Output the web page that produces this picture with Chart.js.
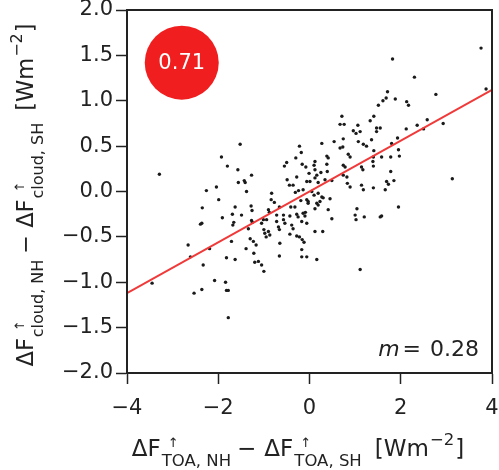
<!DOCTYPE html>
<html>
<head>
<meta charset="utf-8">
<script src="https://cdn.jsdelivr.net/npm/chart.js@4.4.1/dist/chart.umd.min.js"></script>
<style>
  html, body { margin: 0; padding: 0; background: #fff; }
</style>
</head>
<body>
<canvas id="grafico" width="499" height="470"></canvas>
<script>
// Diferenca NH - SH do fluxo no topo da atmosfera (eixo x) e da nuvem (eixo y)
const toaDiff = [
  -1.93, -1.80, -1.57, -3.29, -2.04, -2.26, -1.56, -1.99, -2.35, -1.63,
  -1.69, -1.91, -1.66, -2.39, -2.36, -1.71, -2.66, -2.19, -2.61, -1.82,
  -1.63, -2.33, -3.45, -2.08, -1.84, -2.36, -2.53, -1.82, -1.78, -1.78,
  -1.52, -0.22, -0.18, -0.50, -0.55, -0.30, -0.16, -1.27, -1.43, -1.41,
  -0.49, -0.28, -0.01, -0.06, -1.38, -0.44, -0.36, -0.24, -0.31, -0.83,
  -1.28, -1.26, -0.84, -0.77, -0.66, -0.41, -0.32, -0.19, -0.03, -0.90,
  -0.88, -1.49, -0.72, -0.57, -0.43, -0.28, -0.25, -0.09, -1.01, -1.05,
  -0.94, -1.27, -1.25, -0.72, -0.68, -0.66, -0.57, -0.54, -0.39, -0.36,
  -0.17, -0.06, -1.68, -1.34, -1.00, -0.98, -0.95, -0.90, -0.87, -1.30,
  -1.23, -0.43, -0.28, -0.22, -0.16, -0.65, -1.39, -1.22, -0.17, -0.66,
  -0.17, -0.06, -1.20, -1.12, -1.05, -1.00, -1.17, 0.16, 0.71, 1.41,
  0.67, 0.76, 1.06, 1.33, 1.51, 1.47, 0.96, 1.02, 1.11, 0.27,
  0.54, 0.74, 1.07, 1.18, 1.25, 0.67, 0.73, 1.36, 0.38, 0.41,
  0.12, 0.10, 0.85, 0.89, 1.40, -0.08, 0.38, 0.74, 0.78, 1.14,
  1.17, 1.40, 0.12, 0.16, 0.25, 0.39, 0.01, 0.12, 0.19, 0.34,
  0.49, 0.74, 0.82, 0.83, 0.89, 1.14, 1.18, 1.40, -0.14, 0.05,
  0.10, 0.19, 0.27, 0.30, 0.45, -0.06, -0.03, 0.16, 0.19, 0.23,
  0.41, 0.12, -0.14, -0.10, 1.04, 1.00, 1.02, 1.20, 1.55, 0.49,
  0.12, 0.29, -0.12, 1.11, 3.76, 1.82, 2.30, 3.87, 2.77, 1.71,
  1.61, 1.68, 1.88, 2.13, 2.17, 1.47, 1.55, 2.12, 2.36, 2.50,
  2.58, 2.93, 1.93, 1.80, 1.41, 1.95, 1.58, 1.78, 1.97, 1.39,
  1.78, 1.69, 1.73, 1.85, 1.66, 3.13, 1.95, 1.58
];
const cloudDiff = [
  0.38, 0.28, 0.24, 0.19, 0.05, 0.01, 0.10, -0.09, -0.18, -0.17,
  -0.25, -0.29, -0.34, -0.36, -0.35, -0.55, -0.59, -0.63, -0.72, -0.73,
  -0.75, -0.81, -1.01, -0.98, -1.00, -1.08, -1.12, -1.09, -1.09, -1.39,
  0.52, 0.50, 0.43, 0.32, 0.28, 0.37, 0.30, 0.18, 0.12, 0.10,
  0.13, 0.16, 0.20, 0.11, 0.00, 0.07, 0.07, 0.01, -0.01, -0.02,
  -0.16, -0.21, -0.09, -0.12, -0.17, -0.17, -0.17, -0.10, -0.11, -0.20,
  -0.23, -0.26, -0.26, -0.26, -0.27, -0.25, -0.28, -0.23, -0.31, -0.35,
  -0.31, -0.32, -0.34, -0.33, -0.39, -0.42, -0.31, -0.35, -0.37, -0.41,
  -0.33, -0.35, -0.37, -0.41, -0.42, -0.46, -0.50, -0.44, -0.48, -0.52,
  -0.55, -0.47, -0.49, -0.50, -0.53, -0.57, -0.63, -0.68, -0.64, -0.71,
  -0.72, -0.72, -0.78, -0.77, -0.81, -0.88, -0.59, -0.75, 0.83, 0.83,
  0.74, 0.74, 0.73, 0.78, 0.95, 0.66, 0.67, 0.64, 0.66, 0.53,
  0.55, 0.58, 0.55, 0.52, 0.50, 0.48, 0.49, 0.57, 0.39, 0.37,
  0.33, 0.29, 0.41, 0.38, 0.38, 0.27, 0.30, 0.29, 0.27, 0.27,
  0.24, 0.28, 0.24, 0.18, 0.21, 0.22, 0.11, 0.15, 0.10, 0.13,
  0.12, 0.18, 0.16, 0.09, 0.05, 0.07, 0.02, 0.04, 0.02, 0.00,
  -0.04, -0.02, -0.06, -0.07, -0.08, -0.09, -0.13, -0.13, -0.15, -0.11,
  -0.20, -0.19, -0.24, -0.27, -0.19, -0.26, -0.31, -0.28, -0.28, -0.30,
  -0.44, -0.44, -0.56, -0.86, 1.58, 1.46, 1.26, 1.13, 1.07, 1.10,
  1.00, 1.03, 1.02, 0.99, 0.95, 0.70, 0.70, 0.69, 0.73, 0.69,
  0.79, 0.75, 0.59, 0.53, 0.45, 0.46, 0.38, 0.38, 0.39, 0.33,
  0.22, 0.11, 0.08, 0.12, 0.02, 0.14, -0.17, -0.27
];

// Reta de regressao (inclinacao m = 0.28)
const fitX = [-4, 4];
const fitY = [-1.12, 1.12];

const corrLabel = '0.71';
const slopeLabel = '0.28';

const xTicks = [-4, -2, 0, 2, 4];
const yTicks = [-2.0, -1.5, -1.0, -0.5, 0.0, 0.5, 1.0, 1.5, 2.0];

const FONTE = '"DejaVu Sans"';
const COR_TEXTO = '#222';

// Posicao do circulo vermelho (coordenadas dos dados)
const posCirculo = { x: -2.8, y: 1.42 };

const menos = s => s.replace('-', '\u2212');

// Titulos com sub/sobrescritos, desenhados em pedacos
const tituloX = [
  { t: '\u0394F', size: 23 },
  { t: '\u2191', size: 13, dx: 7, dy: -9, adv: false },
  { t: 'TOA, NH', size: 16.5, dx: 1, dy: 10 },
  { t: '\u2212', size: 23, dx: 6 },
  { t: '\u0394F', size: 23, dx: 8 },
  { t: '\u2191', size: 13, dx: 7, dy: -9, adv: false },
  { t: 'TOA, SH', size: 16.5, dx: 1, dy: 10 },
  { t: '[Wm', size: 23, dx: 13 },
  { t: '\u22122', size: 16.5, dx: 1, dy: -11 },
  { t: ']', size: 23, dx: 1 }
];
const tituloY = [
  { t: '\u0394F', size: 22.5 },
  { t: '\u2191', size: 13, dx: 7, dy: -9, adv: false },
  { t: 'cloud, NH', size: 16, dx: 1, dy: 10 },
  { t: '\u2212', size: 22.5, dx: 6 },
  { t: '\u0394F', size: 22.5, dx: 7 },
  { t: '\u2191', size: 13, dx: 7, dy: -9, adv: false },
  { t: 'cloud, SH', size: 16, dx: 1, dy: 10 },
  { t: '[Wm', size: 22.5, dx: 12 },
  { t: '\u22122', size: 16, dx: 1, dy: -11 },
  { t: ']', size: 22.5, dx: 1 }
];

function desenharTexto(ctx, partes, x, y, desenhar) {
  let cx = x;
  partes.forEach(p => {
    ctx.font = (p.italic ? 'italic ' : '') + p.size + 'px ' + FONTE;
    const w = ctx.measureText(p.t).width;
    if (desenhar) ctx.fillText(p.t, cx + (p.dx || 0), y + (p.dy || 0));
    if (p.adv !== false) cx += (p.dx || 0) + w;
  });
  return cx - x;
}

const extrasPlugin = {
  id: 'extras',
  afterDatasetsDraw(chart) {
    const { ctx, chartArea: { left, right, top, bottom }, scales: { x, y } } = chart;
    ctx.save();

    // Moldura completa
    ctx.strokeStyle = COR_TEXTO;
    ctx.lineWidth = 2;
    ctx.strokeRect(left, top, right - left, bottom - top);

    // Circulo com o coeficiente de correlacao
    const cx = x.getPixelForValue(posCirculo.x);
    const cy = y.getPixelForValue(posCirculo.y);
    ctx.fillStyle = '#f01e1e';
    ctx.beginPath();
    ctx.arc(cx, cy, 37, 0, Math.PI * 2);
    ctx.fill();
    ctx.fillStyle = '#fff';
    ctx.font = '21px ' + FONTE;
    ctx.textAlign = 'center';
    ctx.textBaseline = 'middle';
    ctx.fillText(corrLabel, cx, cy + 1);

    // m = 0.28
    ctx.textAlign = 'left';
    ctx.textBaseline = 'alphabetic';
    ctx.fillStyle = COR_TEXTO;
    const partesM = [
      { t: 'm', size: 22, italic: true },
      { t: '=', size: 22, dx: 3 },
      { t: slopeLabel, size: 22, dx: 9 }
    ];
    const wM = desenharTexto(ctx, partesM, 0, 0, false);
    desenharTexto(ctx, partesM, right - 13 - wM, bottom - 17, true);

    ctx.restore();
  },
  afterDraw(chart) {
    const { ctx } = chart;
    ctx.save();
    ctx.fillStyle = COR_TEXTO;
    ctx.textAlign = 'left';
    ctx.textBaseline = 'alphabetic';

    // Titulo do eixo x
    const wx = desenharTexto(ctx, tituloX, 0, 0, false);
    desenharTexto(ctx, tituloX, 298 - wx / 2, 456, true);

    // Titulo do eixo y (girado)
    const wy = desenharTexto(ctx, tituloY, 0, 0, false);
    ctx.translate(33, 195 + wy / 2);
    ctx.rotate(-Math.PI / 2);
    desenharTexto(ctx, tituloY, 0, 0, true);

    ctx.restore();
  }
};

const ctx = document.getElementById('grafico').getContext('2d');

new Chart(ctx, {
  type: 'scatter',
  data: {
    datasets: [
      {
        label: 'ajuste',
        type: 'line',
        data: fitX.map((v, i) => ({ x: v, y: fitY[i] })),
        borderColor: '#f03a3a',
        borderWidth: 2,
        pointRadius: 0,
        order: 0
      },
      {
        label: 'pontos',
        data: toaDiff.map((v, i) => ({ x: v, y: cloudDiff[i] })),
        backgroundColor: '#1a1a1a',
        borderWidth: 0,
        pointRadius: 1.7,
        order: 1
      }
    ]
  },
  options: {
    responsive: false,
    animation: false,
    devicePixelRatio: 1,
    layout: { padding: { top: 10, right: 7, left: 0, bottom: 0 } },
    plugins: {
      legend: { display: false },
      tooltip: { enabled: false }
    },
    scales: {
      x: {
        type: 'linear',
        min: -4,
        max: 4,
        afterBuildTicks: a => { a.ticks = xTicks.map(v => ({ value: v })); },
        afterFit: s => {
          s.height = 97;
          s.paddingLeft = 0; s.paddingRight = 0; s.paddingTop = 0; s.paddingBottom = 0;
        },
        grid: { drawOnChartArea: false, drawTicks: true, tickLength: 11, tickWidth: 1.5, tickColor: COR_TEXTO },
        border: { display: true, color: COR_TEXTO, width: 2 },
        ticks: {
          color: COR_TEXTO,
          font: { family: 'DejaVu Sans', size: 21 },
          padding: 12,
          maxRotation: 0,
          autoSkip: false,
          callback: v => menos(String(v))
        }
      },
      y: {
        type: 'linear',
        min: -2,
        max: 2,
        afterBuildTicks: a => { a.ticks = yTicks.map(v => ({ value: v })); },
        afterFit: s => {
          s.width = 127;
          s.paddingLeft = 0; s.paddingRight = 0; s.paddingTop = 0; s.paddingBottom = 0;
        },
        grid: { drawOnChartArea: false, drawTicks: true, tickLength: 11, tickWidth: 1.5, tickColor: COR_TEXTO },
        border: { display: true, color: COR_TEXTO, width: 2 },
        ticks: {
          color: COR_TEXTO,
          font: { family: 'DejaVu Sans', size: 21 },
          padding: 3,
          autoSkip: false,
          callback: v => menos(v.toFixed(1))
        }
      }
    }
  },
  plugins: [extrasPlugin]
});
</script>
</body>
</html>
